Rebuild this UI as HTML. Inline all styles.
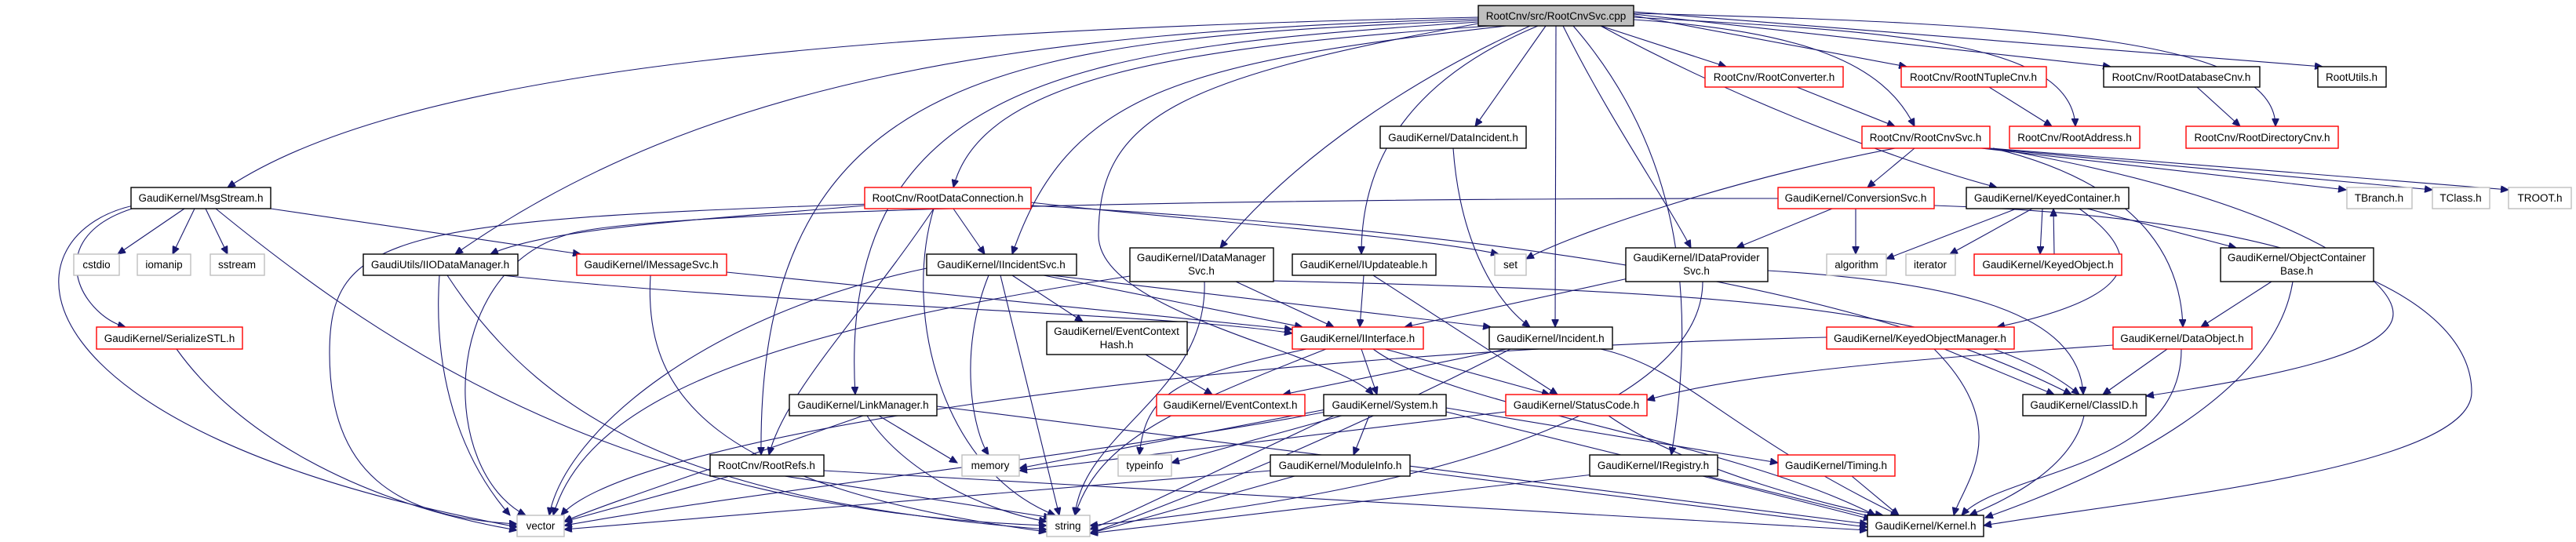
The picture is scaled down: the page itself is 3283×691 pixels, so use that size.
<!DOCTYPE html>
<html><head><meta charset="utf-8"><style>
html,body{margin:0;padding:0;background:#fff;}
svg{display:block;}
text{font-family:"Liberation Sans",sans-serif;font-size:13.5px;text-anchor:middle;fill:#000;}
.e path{fill:none;stroke:#191970;stroke-width:1.1;}
.n{fill:#fff;stroke:#000;stroke-width:1.4;}
.r{fill:#fff;stroke:#ff0000;stroke-width:1.4;}
.g{fill:#fff;stroke:#bfbfbf;stroke-width:1.4;}
</style></head><body>
<svg width="3283" height="691" viewBox="0 0 3283 691" xmlns="http://www.w3.org/2000/svg">
<defs><marker id="a" markerWidth="11" markerHeight="9" refX="10" refY="4.5" orient="auto" markerUnits="userSpaceOnUse"><path d="M0,0 L10,4.5 L0,9 z" fill="#191970" stroke="#191970"/></marker></defs>
<g class="e" marker-end="url(#a)">
<path d="M1884,22 C1000,40 500,100 290,239" marker-end="url(#a)"/>
<path d="M1884,24 C1300,40 900,100 580,324" marker-end="url(#a)"/>
<path d="M1884,26 C1300,50 965,80 970,580" marker-end="url(#a)"/>
<path d="M1884,28 C1400,60 1065,90 1090,503" marker-end="url(#a)"/>
<path d="M1900,33 C1500,60 1250,100 1215,239" marker-end="url(#a)"/>
<path d="M1920,33 C1500,80 1360,120 1290,324" marker-end="url(#a)"/>
<path d="M1950,33 C1800,100 1650,200 1555,316" marker-end="url(#a)"/>
<path d="M1960,33 C1800,100 1735,200 1735,324" marker-end="url(#a)"/>
<path d="M1970,33 L1880,161" marker-end="url(#a)"/>
<path d="M1983,33 L1982,417" marker-end="url(#a)"/>
<path d="M1992,33 C2050,150 2120,250 2155,316" marker-end="url(#a)"/>
<path d="M2005,33 C2150,200 2160,400 2130,580" marker-end="url(#a)"/>
<path d="M1884,30 C1500,100 1400,150 1400,300 C1400,400 1700,450 1750,503" marker-end="url(#a)"/>
<path d="M2040,33 L2200,85" marker-end="url(#a)"/>
<path d="M2082,20 L2430,85" marker-end="url(#a)"/>
<path d="M2082,18 L2690,85" marker-end="url(#a)"/>
<path d="M2082,15 L2960,85" marker-end="url(#a)"/>
<path d="M2082,25 C2300,40 2400,80 2440,161" marker-end="url(#a)"/>
<path d="M2082,22 C2400,40 2640,50 2645,161" marker-end="url(#a)"/>
<path d="M2082,17 C2600,30 2900,50 2900,161" marker-end="url(#a)"/>
<path d="M2040,33 C2200,120 2400,200 2545,239" marker-end="url(#a)"/>
<path d="M235,266 L150,324" marker-end="url(#a)"/>
<path d="M248,266 L220,324" marker-end="url(#a)"/>
<path d="M262,266 L290,324" marker-end="url(#a)"/>
<path d="M170,262 C0,300 0,550 660,672" marker-end="url(#a)"/>
<path d="M275,266 C500,450 800,650 1334,670" marker-end="url(#a)"/>
<path d="M175,264 C50,300 100,400 160,417" marker-end="url(#a)"/>
<path d="M345,266 L740,324" marker-end="url(#a)"/>
<path d="M560,351 C550,500 600,600 650,657" marker-end="url(#a)"/>
<path d="M570,351 C700,550 900,640 1334,675" marker-end="url(#a)"/>
<path d="M640,351 C1000,390 1500,400 1647,425" marker-end="url(#a)"/>
<path d="M829,351 C820,500 900,620 1334,678" marker-end="url(#a)"/>
<path d="M926,347 L1647,420" marker-end="url(#a)"/>
<path d="M225,445 C300,550 450,640 659,676" marker-end="url(#a)"/>
<path d="M1215,266 L1255,324" marker-end="url(#a)"/>
<path d="M1102,262 C900,280 700,290 625,324" marker-end="url(#a)"/>
<path d="M1110,260 C500,280 420,300 420,450 C420,600 500,660 659,668" marker-end="url(#a)"/>
<path d="M1190,266 C1150,400 1200,600 1345,657" marker-end="url(#a)"/>
<path d="M1314,258 C1500,280 1800,300 1910,324" marker-end="url(#a)"/>
<path d="M1190,266 C1100,400 1000,500 980,580" marker-end="url(#a)"/>
<path d="M1314,262 C2000,300 2400,380 2640,503" marker-end="url(#a)"/>
<path d="M1330,351 L1660,417" marker-end="url(#a)"/>
<path d="M1340,351 L1900,417" marker-end="url(#a)"/>
<path d="M1290,351 L1380,410" marker-end="url(#a)"/>
<path d="M1275,351 L1350,657" marker-end="url(#a)"/>
<path d="M1260,351 C1220,450 1240,550 1260,580" marker-end="url(#a)"/>
<path d="M1181,342 C900,400 720,550 700,657" marker-end="url(#a)"/>
<path d="M1575,359 L1700,417" marker-end="url(#a)"/>
<path d="M1535,359 C1540,500 1380,550 1370,657" marker-end="url(#a)"/>
<path d="M1623,358 C2100,370 2500,380 2650,503" marker-end="url(#a)"/>
<path d="M1440,352 C1000,420 750,500 705,657" marker-end="url(#a)"/>
<path d="M1738,351 L1733,417" marker-end="url(#a)"/>
<path d="M1750,351 L1985,503" marker-end="url(#a)"/>
<path d="M2075,355 L1790,417" marker-end="url(#a)"/>
<path d="M2170,359 C2170,500 1900,620 1389,670" marker-end="url(#a)"/>
<path d="M2253,345 C2500,360 2650,400 2655,503" marker-end="url(#a)"/>
<path d="M1852,189 C1860,300 1900,380 1950,417" marker-end="url(#a)"/>
<path d="M1460,452 L1545,503" marker-end="url(#a)"/>
<path d="M1735,445 L1755,503" marker-end="url(#a)"/>
<path d="M1765,445 L1975,503" marker-end="url(#a)"/>
<path d="M1665,445 C1500,480 1460,500 1452,580" marker-end="url(#a)"/>
<path d="M1690,445 C1500,520 1400,560 1370,657" marker-end="url(#a)"/>
<path d="M1750,445 C1850,520 2200,560 2390,657" marker-end="url(#a)"/>
<path d="M1920,445 L1635,503" marker-end="url(#a)"/>
<path d="M1925,445 C1700,560 1500,640 1389,680" marker-end="url(#a)"/>
<path d="M2040,445 C2150,470 2200,550 2420,657" marker-end="url(#a)"/>
<path d="M1700,520 L1299,597" marker-end="url(#a)"/>
<path d="M1710,530 L1493,590" marker-end="url(#a)"/>
<path d="M1745,530 L1725,580" marker-end="url(#a)"/>
<path d="M1700,530 C1550,600 1450,650 1389,675" marker-end="url(#a)"/>
<path d="M1690,525 C1400,580 1000,620 719,670" marker-end="url(#a)"/>
<path d="M1843,525 L2390,660" marker-end="url(#a)"/>
<path d="M1843,520 L2266,590" marker-end="url(#a)"/>
<path d="M2050,530 C2150,600 2350,650 2400,657" marker-end="url(#a)"/>
<path d="M1919,525 L1299,600" marker-end="url(#a)"/>
<path d="M1797,600 L2380,672" marker-end="url(#a)"/>
<path d="M1650,607 L1389,680" marker-end="url(#a)"/>
<path d="M1620,600 L719,675" marker-end="url(#a)"/>
<path d="M2170,607 L2385,662" marker-end="url(#a)"/>
<path d="M2030,605 L1389,680" marker-end="url(#a)"/>
<path d="M1120,530 L1220,590" marker-end="url(#a)"/>
<path d="M1100,530 C900,600 750,650 719,665" marker-end="url(#a)"/>
<path d="M1105,530 C1150,600 1250,650 1334,665" marker-end="url(#a)"/>
<path d="M1194,518 L2380,668" marker-end="url(#a)"/>
<path d="M930,607 L719,665" marker-end="url(#a)"/>
<path d="M1000,607 L1340,660" marker-end="url(#a)"/>
<path d="M1050,600 L2380,676" marker-end="url(#a)"/>
<path d="M2290,111 L2415,161" marker-end="url(#a)"/>
<path d="M2535,111 L2615,161" marker-end="url(#a)"/>
<path d="M2800,111 L2855,161" marker-end="url(#a)"/>
<path d="M2440,189 L2380,239" marker-end="url(#a)"/>
<path d="M2415,189 C2200,230 2000,300 1945,330" marker-end="url(#a)"/>
<path d="M2525,189 L2990,242" marker-end="url(#a)"/>
<path d="M2530,189 L3100,242" marker-end="url(#a)"/>
<path d="M2536,189 L3197,242" marker-end="url(#a)"/>
<path d="M2540,189 C2750,240 2780,350 2782,417" marker-end="url(#a)"/>
<path d="M2540,189 C2900,250 3050,350 3050,400 C3050,450 2900,480 2735,505" marker-end="url(#a)"/>
<path d="M2335,266 L2213,316" marker-end="url(#a)"/>
<path d="M2365,266 L2365,324" marker-end="url(#a)"/>
<path d="M2266,253 C1500,253 800,270 720,300 C560,350 560,600 670,657" marker-end="url(#a)"/>
<path d="M2465,262 C3000,280 3150,400 3150,500 C3150,600 2700,640 2528,670" marker-end="url(#a)"/>
<path d="M2570,266 L2404,330" marker-end="url(#a)"/>
<path d="M2590,266 L2485,324" marker-end="url(#a)"/>
<path d="M2603,266 L2600,324" marker-end="url(#a)"/>
<path d="M2618,324 L2617,266" marker-end="url(#a)"/>
<path d="M2660,266 L2850,316" marker-end="url(#a)"/>
<path d="M2650,266 C2740,330 2720,380 2545,417" marker-end="url(#a)"/>
<path d="M2895,359 L2805,417" marker-end="url(#a)"/>
<path d="M2922,359 C2900,500 2700,600 2530,660" marker-end="url(#a)"/>
<path d="M2478,445 L2618,503" marker-end="url(#a)"/>
<path d="M2465,445 C2570,550 2500,620 2490,657" marker-end="url(#a)"/>
<path d="M2328,430 C1500,450 800,560 715,657" marker-end="url(#a)"/>
<path d="M2762,445 L2680,503" marker-end="url(#a)"/>
<path d="M2693,440 C2400,460 2200,480 2099,510" marker-end="url(#a)"/>
<path d="M2780,445 C2780,600 2550,600 2500,657" marker-end="url(#a)"/>
<path d="M2656,530 C2640,600 2550,640 2510,657" marker-end="url(#a)"/>
<path d="M2360,607 L2420,657" marker-end="url(#a)"/>
</g>
<g>
<rect x="1884" y="7" width="198" height="26" fill="#bfbfbf" stroke="#000" stroke-width="1.4"/><text x="1983" y="25">RootCnv/src/RootCnvSvc.cpp</text>
<rect class="r" x="2173" y="85" width="176" height="26"/><text x="2261" y="103">RootCnv/RootConverter.h</text>
<rect class="r" x="2423" y="85" width="185" height="26"/><text x="2515" y="103">RootCnv/RootNTupleCnv.h</text>
<rect class="n" x="2681" y="85" width="199" height="26"/><text x="2780" y="103">RootCnv/RootDatabaseCnv.h</text>
<rect class="n" x="2954" y="85" width="87" height="26"/><text x="2997" y="103">RootUtils.h</text>
<rect class="n" x="1759" y="161" width="186" height="28"/><text x="1852" y="180">GaudiKernel/DataIncident.h</text>
<rect class="r" x="2373" y="161" width="163" height="28"/><text x="2454" y="180">RootCnv/RootCnvSvc.h</text>
<rect class="r" x="2561" y="161" width="166" height="28"/><text x="2644" y="180">RootCnv/RootAddress.h</text>
<rect class="r" x="2786" y="161" width="194" height="28"/><text x="2883" y="180">RootCnv/RootDirectoryCnv.h</text>
<rect class="n" x="167" y="239" width="178" height="27"/><text x="256" y="257">GaudiKernel/MsgStream.h</text>
<rect class="r" x="1102" y="239" width="212" height="27"/><text x="1208" y="257">RootCnv/RootDataConnection.h</text>
<rect class="r" x="2266" y="239" width="199" height="27"/><text x="2365" y="257">GaudiKernel/ConversionSvc.h</text>
<rect class="n" x="2506" y="239" width="207" height="27"/><text x="2609" y="257">GaudiKernel/KeyedContainer.h</text>
<rect class="g" x="2991" y="239" width="83" height="27"/><text x="3032" y="257">TBranch.h</text>
<rect class="g" x="3100" y="239" width="73" height="27"/><text x="3136" y="257">TClass.h</text>
<rect class="g" x="3197" y="239" width="80" height="27"/><text x="3237" y="257">TROOT.h</text>
<rect class="g" x="94" y="324" width="58" height="27"/><text x="123" y="342">cstdio</text>
<rect class="g" x="175" y="324" width="68" height="27"/><text x="209" y="342">iomanip</text>
<rect class="g" x="268" y="324" width="69" height="27"/><text x="302" y="342">sstream</text>
<rect class="n" x="463" y="324" width="197" height="27"/><text x="561" y="342">GaudiUtils/IIODataManager.h</text>
<rect class="r" x="735" y="324" width="191" height="27"/><text x="830" y="342">GaudiKernel/IMessageSvc.h</text>
<rect class="n" x="1181" y="324" width="191" height="27"/><text x="1276" y="342">GaudiKernel/IIncidentSvc.h</text>
<rect class="n" x="1440" y="316" width="183" height="43"/><text x="1531" y="333">GaudiKernel/IDataManager</text><text x="1531" y="350">Svc.h</text>
<rect class="n" x="1647" y="324" width="183" height="27"/><text x="1738" y="342">GaudiKernel/IUpdateable.h</text>
<rect class="g" x="1905" y="324" width="40" height="27"/><text x="1925" y="342">set</text>
<rect class="n" x="2072" y="316" width="181" height="43"/><text x="2162" y="333">GaudiKernel/IDataProvider</text><text x="2162" y="350">Svc.h</text>
<rect class="g" x="2328" y="324" width="76" height="27"/><text x="2366" y="342">algorithm</text>
<rect class="g" x="2429" y="324" width="63" height="27"/><text x="2460" y="342">iterator</text>
<rect class="r" x="2516" y="324" width="188" height="27"/><text x="2610" y="342">GaudiKernel/KeyedObject.h</text>
<rect class="n" x="2830" y="316" width="195" height="43"/><text x="2927" y="333">GaudiKernel/ObjectContainer</text><text x="2927" y="350">Base.h</text>
<rect class="r" x="123" y="417" width="186" height="28"/><text x="216" y="436">GaudiKernel/SerializeSTL.h</text>
<rect class="n" x="1334" y="410" width="179" height="42"/><text x="1423" y="427">GaudiKernel/EventContext</text><text x="1423" y="444">Hash.h</text>
<rect class="r" x="1647" y="417" width="167" height="28"/><text x="1730" y="436">GaudiKernel/IInterface.h</text>
<rect class="n" x="1898" y="417" width="157" height="28"/><text x="1976" y="436">GaudiKernel/Incident.h</text>
<rect class="r" x="2328" y="417" width="239" height="28"/><text x="2447" y="436">GaudiKernel/KeyedObjectManager.h</text>
<rect class="r" x="2693" y="417" width="177" height="28"/><text x="2781" y="436">GaudiKernel/DataObject.h</text>
<rect class="n" x="1006" y="503" width="188" height="27"/><text x="1100" y="521">GaudiKernel/LinkManager.h</text>
<rect class="r" x="1474" y="503" width="189" height="27"/><text x="1568" y="521">GaudiKernel/EventContext.h</text>
<rect class="n" x="1687" y="503" width="156" height="27"/><text x="1765" y="521">GaudiKernel/System.h</text>
<rect class="r" x="1919" y="503" width="180" height="27"/><text x="2009" y="521">GaudiKernel/StatusCode.h</text>
<rect class="n" x="2578" y="503" width="157" height="27"/><text x="2656" y="521">GaudiKernel/ClassID.h</text>
<rect class="n" x="905" y="580" width="145" height="27"/><text x="977" y="598">RootCnv/RootRefs.h</text>
<rect class="g" x="1226" y="580" width="73" height="27"/><text x="1262" y="598">memory</text>
<rect class="g" x="1425" y="580" width="68" height="27"/><text x="1459" y="598">typeinfo</text>
<rect class="n" x="1619" y="580" width="178" height="27"/><text x="1708" y="598">GaudiKernel/ModuleInfo.h</text>
<rect class="n" x="2026" y="580" width="163" height="27"/><text x="2107" y="598">GaudiKernel/IRegistry.h</text>
<rect class="r" x="2266" y="580" width="149" height="27"/><text x="2340" y="598">GaudiKernel/Timing.h</text>
<rect class="g" x="659" y="657" width="60" height="27"/><text x="689" y="675">vector</text>
<rect class="g" x="1334" y="657" width="55" height="27"/><text x="1361" y="675">string</text>
<rect class="n" x="2380" y="657" width="148" height="27"/><text x="2454" y="675">GaudiKernel/Kernel.h</text>
</g>
</svg>
</body></html>
